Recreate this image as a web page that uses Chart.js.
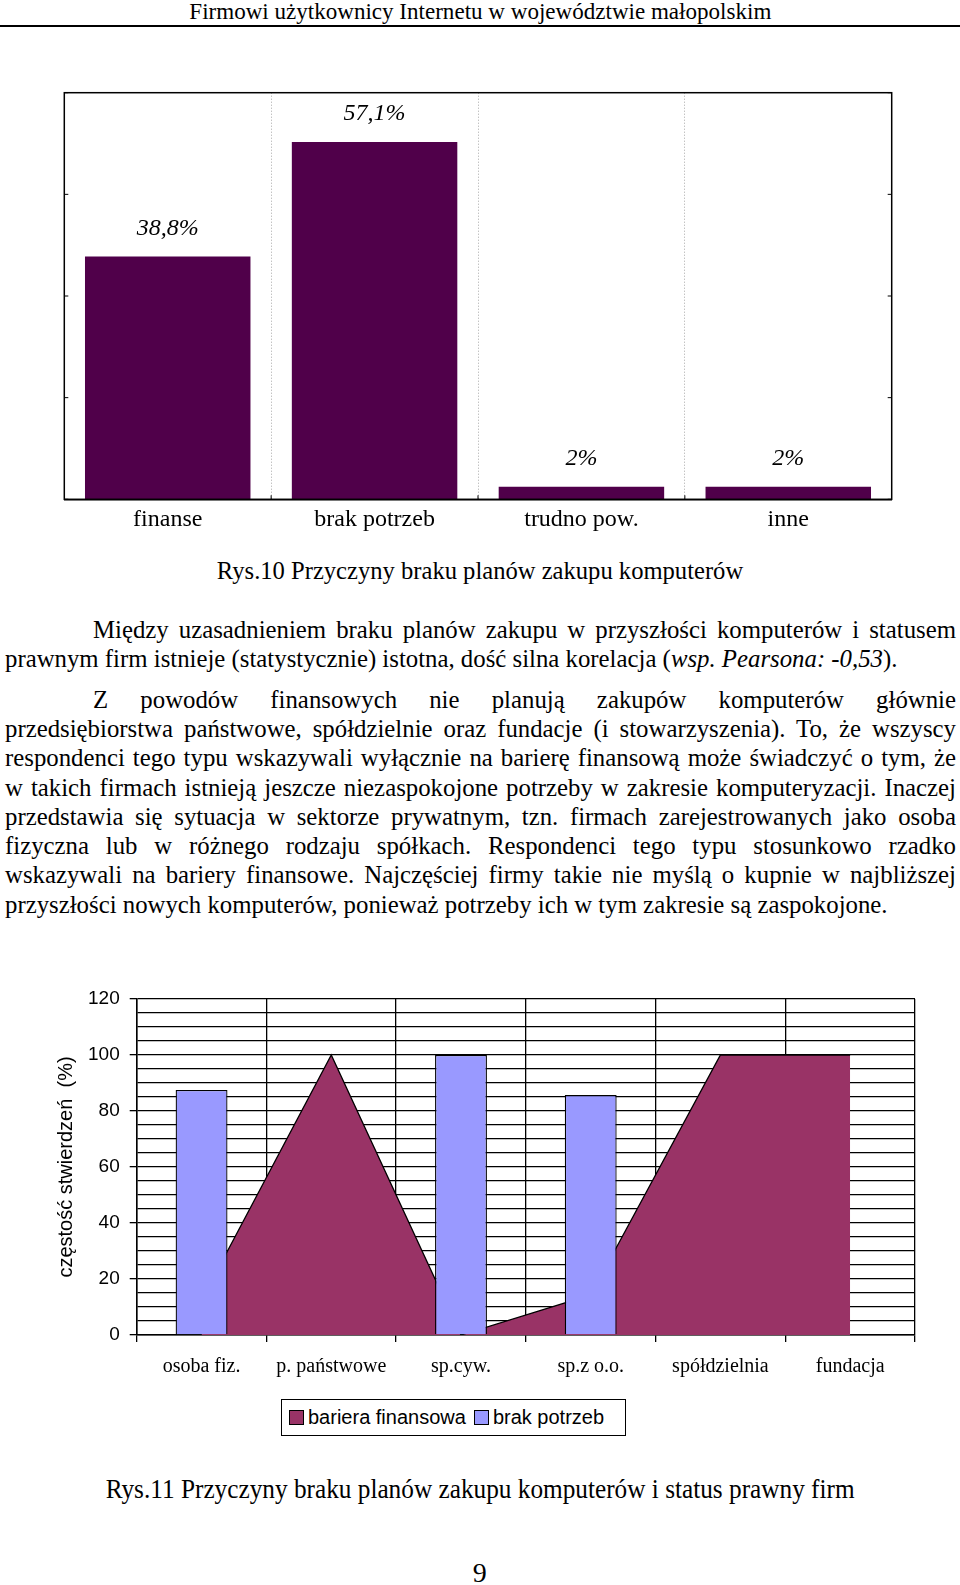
<!DOCTYPE html>
<html lang="pl">
<head>
<meta charset="utf-8">
<title>Przyczyny braku planów zakupu komputerów</title>
<script src="https://cdn.jsdelivr.net/npm/chart.js@4.4.1/dist/chart.umd.min.js"></script>
<style>
  html, body { margin: 0; padding: 0; background: #fff; }
  body { width: 960px; height: 1585px; position: relative; overflow: hidden;
         font-family: "Liberation Serif", "Times New Roman", serif; color: #000; }
  .abs { position: absolute; }
  .center { left: 0; width: 960px; text-align: center; white-space: nowrap; }
  .fit { display: inline-block; transform-origin: 50% 50%; }
  .line { position: absolute; left: 5px; width: 951px; height: 29.3px; line-height: 29.3px;
          font-size: 24.8px; white-space: nowrap; }
  .line.ind { padding-left: 88px; width: 863px; }
  #legend2 { left: 281px; top: 1399px; width: 345px; height: 37px; box-sizing: border-box;
             border: 1.3px solid #000; display: flex; align-items: center; padding-left: 7px;
             font-family: "Liberation Sans", Arial, sans-serif; font-size: 20px; }
  #legend2 .sw { width: 13px; height: 13px; border: 1px solid #000; margin-right: 4px; }
  #legend2 .txt { margin-right: 8px; }
</style>
</head>
<body>

<!-- nagłówek strony -->
<div class="abs center" style="top:0; line-height:24px; font-size:23px;">
  <span class="fit" data-w="582">Firmowi użytkownicy Internetu w województwie małopolskim</span>
</div>
<div class="abs" style="left:0; top:25px; width:960px; height:1.5px; background:#000;"></div>

<canvas id="c1" class="abs" width="960" height="470" style="left:0; top:80px;"></canvas>

<div class="abs center" style="top:556px; line-height:30px; font-size:24.6px;">Rys.10 Przyczyny braku planów zakupu komputerów</div>

<div class="line ind just" style="top:614.8px;"><span>Między uzasadnieniem braku planów zakupu w przyszłości komputerów i statusem</span></div>
<div class="line" style="top:644.2px;"><span>prawnym firm istnieje (statystycznie) istotna, dość silna korelacja (<i>wsp. Pearsona: -0,53</i>).</span></div>
<div class="line ind just" style="top:684.6px;"><span>Z powodów finansowych nie planują zakupów komputerów głównie</span></div>
<div class="line just" style="top:713.9px;"><span>przedsiębiorstwa państwowe, spółdzielnie oraz fundacje (i stowarzyszenia). To, że wszyscy</span></div>
<div class="line just" style="top:743.2px;"><span>respondenci tego typu wskazywali wyłącznie na barierę finansową może świadczyć o tym, że</span></div>
<div class="line just" style="top:772.5px;"><span>w takich firmach istnieją jeszcze niezaspokojone potrzeby w zakresie komputeryzacji. Inaczej</span></div>
<div class="line just" style="top:801.8px;"><span>przedstawia się sytuacja w sektorze prywatnym, tzn. firmach zarejestrowanych jako osoba</span></div>
<div class="line just" style="top:831.1px;"><span>fizyczna lub w różnego rodzaju spółkach. Respondenci tego typu stosunkowo rzadko</span></div>
<div class="line just" style="top:860.4px;"><span>wskazywali na bariery finansowe. Najczęściej firmy takie nie myślą o kupnie w najbliższej</span></div>
<div class="line" style="top:889.7px;"><span>przyszłości nowych komputerów, ponieważ potrzeby ich w tym zakresie są zaspokojone.</span></div>

<canvas id="c2" class="abs" width="960" height="410" style="left:0; top:975px;"></canvas>
<div id="legend2" class="abs"></div>

<div class="abs center" style="top:1473px; line-height:32px; font-size:27px;">
  <span class="fit" data-w="749">Rys.11 Przyczyny braku planów zakupu komputerów i status prawny firm</span>
</div>
<div class="abs center" style="top:1557px; line-height:32px; font-size:27px;">
  <span class="fit" data-w="14">9</span>
</div>

<script>
// Rys.10
const categories1 = ["finanse", "brak potrzeb", "trudno pow.", "inne"];
const values1 = [38.8, 57.1, 2, 2];
const valueLabels1 = ["38,8%", "57,1%", "2%", "2%"];
const yMax1 = 65;
const yStep1 = 16.25;

// Rys.11
const categories2 = ["osoba fiz.", "p. państwowe", "sp.cyw.", "sp.z o.o.", "spółdzielnia", "fundacja"];
const barieraFinansowa = [12.5, 100, 0, 14.3, 100, 100];
const brakPotrzeb = [87.5, 0, 100, 85.7, 0, 0];
const yTickLabels2 = [0, 20, 40, 60, 80, 100, 120];

const colBar1 = "#50004a";
const colArea = "#993366";
const colBar2 = "#9999ff";

// dopasowanie szerokości zwężonych napisów
document.querySelectorAll(".fit").forEach(el => {
    let w = el.getBoundingClientRect().width;
    el.style.transform = "scaleX(" + (parseFloat(el.dataset.w) / w) + ")";
});

// justowanie linii akapitu
document.querySelectorAll(".line.just").forEach(el => {
    let span = el.firstElementChild;
    let avail = el.clientWidth - parseFloat(getComputedStyle(el).paddingLeft);
    let w = span.getBoundingClientRect().width;
    let n = (span.textContent.match(/ /g) || []).length;
    span.style.wordSpacing = ((avail - w) / n) + "px";
});

// ramka, kreski podziałki i etykiety wartości dla Rys.10
const frame1 = {
    id: "frame1",
    afterDraw(chart) {
        const ctx = chart.ctx;
        const a = chart.chartArea;
        const x = chart.scales.x;
        const y = chart.scales.y;
        ctx.save();
        ctx.strokeStyle = "#000";
        ctx.lineWidth = 1.5;
        ctx.strokeRect(a.left, a.top, a.right - a.left, a.bottom - a.top);
        ctx.lineWidth = 1;
        ctx.beginPath();
        y.ticks.forEach(t => {
            let py = y.getPixelForValue(t.value);
            ctx.moveTo(a.left, py); ctx.lineTo(a.left + 4, py);
            ctx.moveTo(a.right, py); ctx.lineTo(a.right - 4, py);
        });
        for (let i = 1; i < categories1.length; i++) {
            let px = (x.getPixelForValue(i - 1) + x.getPixelForValue(i)) / 2;
            ctx.moveTo(px, a.bottom); ctx.lineTo(px, a.bottom - 4);
        }
        ctx.stroke();

        ctx.font = "italic 24px 'Liberation Serif'";
        ctx.fillStyle = "#000";
        ctx.textAlign = "center";
        ctx.textBaseline = "middle";
        chart.getDatasetMeta(0).data.forEach((bar, i) => {
            ctx.fillText(valueLabels1[i], bar.x, bar.y - 28);
        });
        ctx.restore();
    }
};

new Chart(document.getElementById("c1"), {
    type: "bar",
    data: {
        labels: categories1,
        datasets: [{
            data: values1,
            backgroundColor: colBar1,
            borderWidth: 0,
            barPercentage: 0.8,
            categoryPercentage: 1
        }]
    },
    options: {
        responsive: false,
        animation: false,
        layout: { padding: { top: 12.7, left: 64.3, right: 68.3, bottom: 0 } },
        plugins: { legend: { display: false }, tooltip: { enabled: false } },
        scales: {
            x: {
                grid: { color: "#a8a8a8", lineWidth: 1, offset: true, drawTicks: false },
                border: { color: "#000", width: 1.5, dash: [1, 2] },
                ticks: { color: "#000", font: { family: "Liberation Serif", size: 24 }, padding: 6, maxRotation: 0 },
                afterFit: s => { s.height = 50.7; }
            },
            y: {
                display: false,
                min: 0,
                max: yMax1,
                ticks: { stepSize: yStep1 }
            }
        }
    },
    plugins: [frame1]
});

// Rys.11
const chart2 = new Chart(document.getElementById("c2"), {
    type: "bar",
    data: {
        labels: categories2,
        datasets: [{
            type: "line",
            label: "bariera finansowa",
            data: barieraFinansowa,
            order: 1,
            fill: "origin",
            backgroundColor: colArea,
            borderColor: "#000",
            borderWidth: 1.3,
            pointRadius: 0,
            tension: 0
        }, {
            type: "bar",
            label: "brak potrzeb",
            data: brakPotrzeb,
            order: 0,
            backgroundColor: colBar2,
            borderColor: "#000",
            borderWidth: c => c.raw ? 1.3 : 0,
            barPercentage: 0.4,
            categoryPercentage: 1
        }]
    },
    options: {
        responsive: false,
        animation: false,
        layout: { padding: { top: 24, right: 45, left: 0, bottom: 0 } },
        plugins: { legend: { display: false }, tooltip: { enabled: false } },
        scales: {
            x: {
                grid: { color: "#000", lineWidth: 1.3, offset: true, tickLength: 7, tickColor: "#000" },
                border: { color: "#000", width: 1.5 },
                ticks: { color: "#000", font: { family: "Liberation Serif", size: 20 }, padding: 13, maxRotation: 0, autoSkip: false },
                afterFit: s => { s.height = 50; }
            },
            y: {
                min: 0,
                max: 120,
                grid: {
                    color: "#000",
                    lineWidth: 1.3,
                    tickLength: 7,
                    tickColor: c => (c.tick && yTickLabels2.includes(c.tick.value)) ? "#000" : "rgba(0,0,0,0)"
                },
                border: { color: "#000", width: 1.5 },
                ticks: {
                    stepSize: 5,
                    autoSkip: false,
                    color: "#000",
                    font: { family: "Liberation Sans", size: 19 },
                    padding: 10,
                    callback: v => yTickLabels2.includes(v) ? String(v) : ""
                },
                title: {
                    display: true,
                    text: "częstość stwierdzeń  (%)",
                    color: "#000",
                    font: { family: "Liberation Sans", size: 20 },
                    padding: { top: 54, bottom: 0 }
                },
                afterFit: s => { s.width = 136.7; }
            }
        }
    }
});

// legenda w ramce
let legend = document.getElementById("legend2");
chart2.data.datasets.forEach(ds => {
    let sw = document.createElement("span");
    sw.className = "sw";
    sw.style.background = ds.backgroundColor;
    let txt = document.createElement("span");
    txt.className = "txt";
    txt.textContent = ds.label;
    legend.appendChild(sw);
    legend.appendChild(txt);
});
</script>
</body>
</html>
